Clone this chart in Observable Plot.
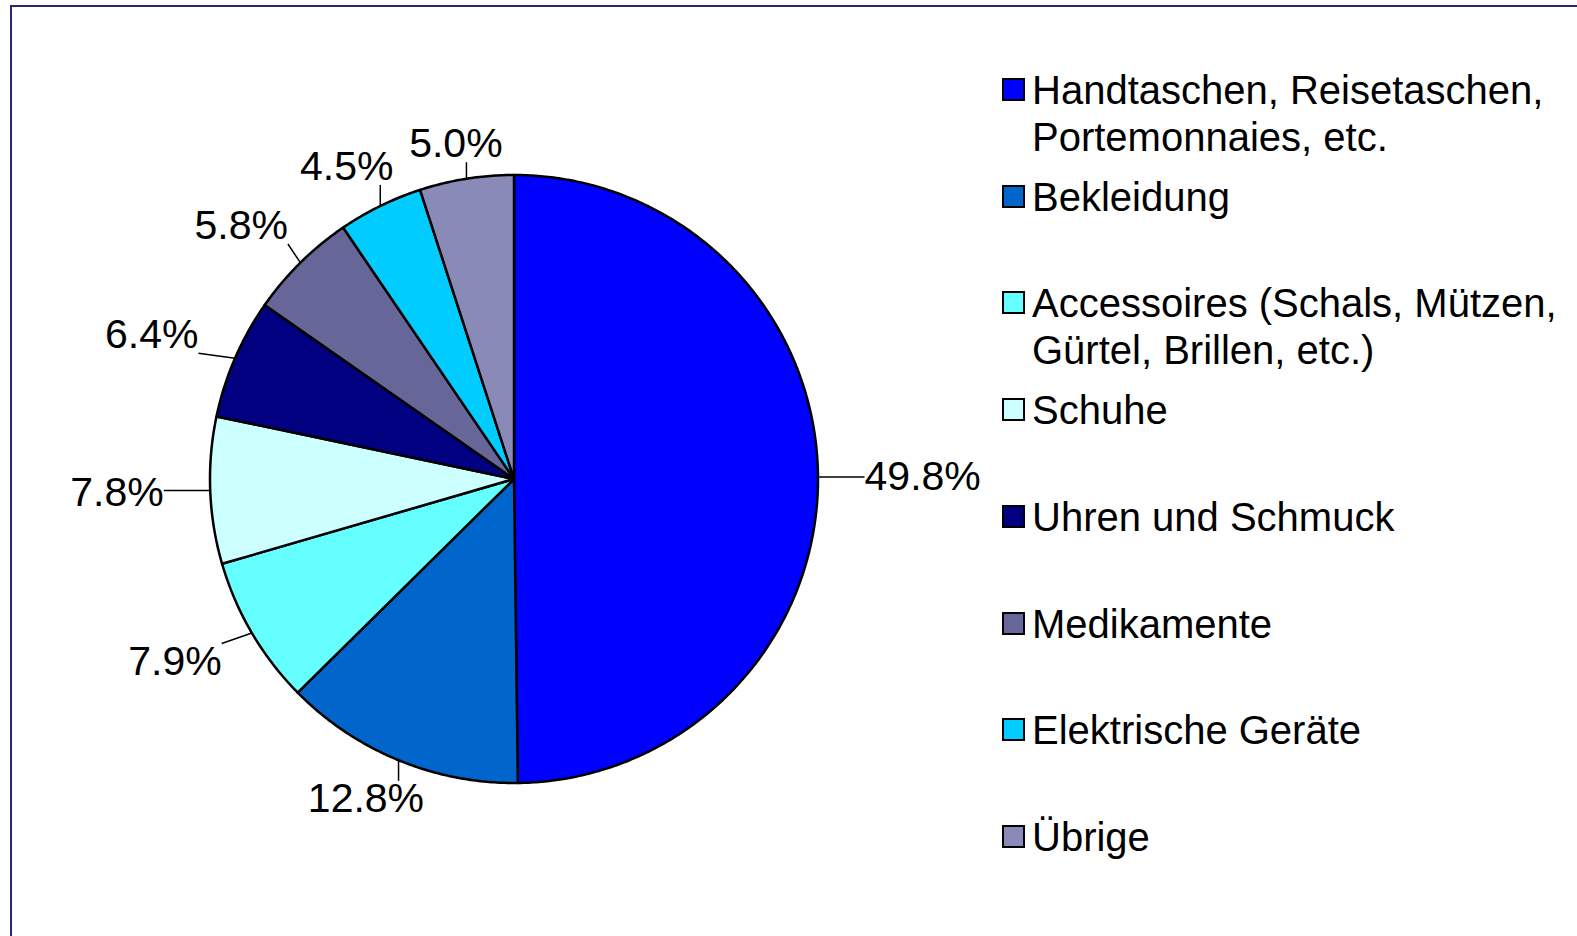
<!DOCTYPE html>
<html>
<head>
<meta charset="utf-8">
<script src="https://cdn.jsdelivr.net/npm/d3@7"></script>
<script src="https://cdn.jsdelivr.net/npm/@observablehq/plot@0.6"></script>
<style>
  html, body { margin: 0; padding: 0; background: #fff; }
  #wrap { position: relative; width: 1577px; height: 936px; overflow: hidden; background: #fff;
          font-family: "Liberation Sans", Arial, sans-serif; }
  #frame { position: absolute; left: 10px; top: 5px; width: 1700px; height: 1100px;
           border-top: 2px solid #26267f; border-left: 2px solid #26267f; pointer-events: none; }
  #chart { position: absolute; left: 0; top: 0; }
  #legend { position: absolute; left: 1002px; top: 0; }
  .item { position: absolute; left: 0; display: flex; align-items: flex-start; }
  .sw { box-sizing: border-box; width: 23px; height: 23px; border: 2px solid #000; margin-top: 11px; margin-right: 7px; flex: none; }
  .tx { font-size: 40px; line-height: 47px; white-space: pre; color: #000; }
</style>
</head>
<body>
<div id="wrap">
  <div id="chart"></div>
  <div id="legend"></div>
  <div id="frame"></div>
</div>
<script>
// ---- data ----
const categories = [
  "Handtaschen, Reisetaschen,\nPortemonnaies, etc.",
  "Bekleidung",
  "Accessoires (Schals, Mützen,\nGürtel, Brillen, etc.)",
  "Schuhe",
  "Uhren und Schmuck",
  "Medikamente",
  "Elektrische Geräte",
  "Übrige"
];
const shares = [49.8, 12.8, 7.9, 7.8, 6.4, 5.8, 4.5, 5.0];
const colors = ["#0000FF", "#0066CC", "#66FFFF", "#CCFFFF", "#000080", "#666699", "#00CCFF", "#8A8AB8"];

// ---- layout helpers ----
const R = 304;               // pie radius in px (matches scale range below)
const FONT = 41;
const ctx = document.createElement("canvas").getContext("2d");
ctx.font = `${FONT}px "Liberation Sans", Arial, sans-serif`;

const total = d3.sum(shares);
let acc = 0;
const slices = shares.map((v, i) => {
  const a0 = acc / total * 2 * Math.PI;
  acc += v;
  const a1 = acc / total * 2 * Math.PI;
  const pts = [{x: 0, y: 0}];
  const n = Math.max(2, Math.ceil((a1 - a0) / (Math.PI / 360)));
  for (let k = 0; k <= n; k++) {
    const a = a0 + (a1 - a0) * k / n;
    pts.push({x: Math.sin(a), y: Math.cos(a)});
  }
  const mid = (a0 + a1) / 2;
  const ux = Math.sin(mid), uy = Math.cos(mid);
  const label = v.toFixed(1) + "%";
  const w = ctx.measureText(label).width;
  const h = 36;
  const kk = 1.04 + 0.1 * Math.abs(ux);
  const cx = ux * kk + ux * (w / 2 + 4) / R;
  const cy = uy * kk + uy * (h / 2) / R;
  const bx0 = cx - w / 2 / R, bx1 = cx + w / 2 / R;
  const by0 = cy - h / 2 / R, by1 = cy + h / 2 / R;
  const qx = Math.min(bx1, Math.max(bx0, ux));
  const qy = Math.min(by1, Math.max(by0, uy));
  return {i, v, color: colors[i], pts, label, cx, cy, px: ux, py: uy, qx, qy};
});

const leaders = slices.filter(s => Math.hypot(s.qx - s.px, s.qy - s.py) > 0.02);

const marks = [
  ...slices.map(s => Plot.line(s.pts, {
    x: "x", y: "y", curve: "linear-closed",
    fill: s.color, stroke: "#000", strokeWidth: 2.5, strokeLinejoin: "round"
  })),
  Plot.link(leaders, {x1: "px", y1: "py", x2: "qx", y2: "qy", stroke: "#000", strokeWidth: 1.5}),
  Plot.text(slices, {x: "cx", y: "cy", text: "label", fontSize: FONT, fill: "#000",
    textAnchor: "middle", lineAnchor: "middle"})
];

const chart = Plot.plot({
  width: 1577, height: 936,
  margin: 0,
  x: {domain: [-1, 1], range: [513.5 - R, 513.5 + R], axis: null},
  y: {domain: [-1, 1], range: [478.5 + R, 478.5 - R], axis: null},
  style: {background: "transparent", fontFamily: '"Liberation Sans", Arial, sans-serif', overflow: "visible"},
  marks
});
document.getElementById("chart").appendChild(chart);

// ---- legend ----
const legend = document.getElementById("legend");
categories.forEach((c, i) => {
  const item = document.createElement("div");
  item.className = "item";
  item.style.top = (67 + i * 106.7) + "px";
  const sw = document.createElement("div");
  sw.className = "sw";
  sw.style.background = colors[i];
  const tx = document.createElement("div");
  tx.className = "tx";
  tx.textContent = c;
  item.appendChild(sw);
  item.appendChild(tx);
  legend.appendChild(item);
});
</script>
</body>
</html>
